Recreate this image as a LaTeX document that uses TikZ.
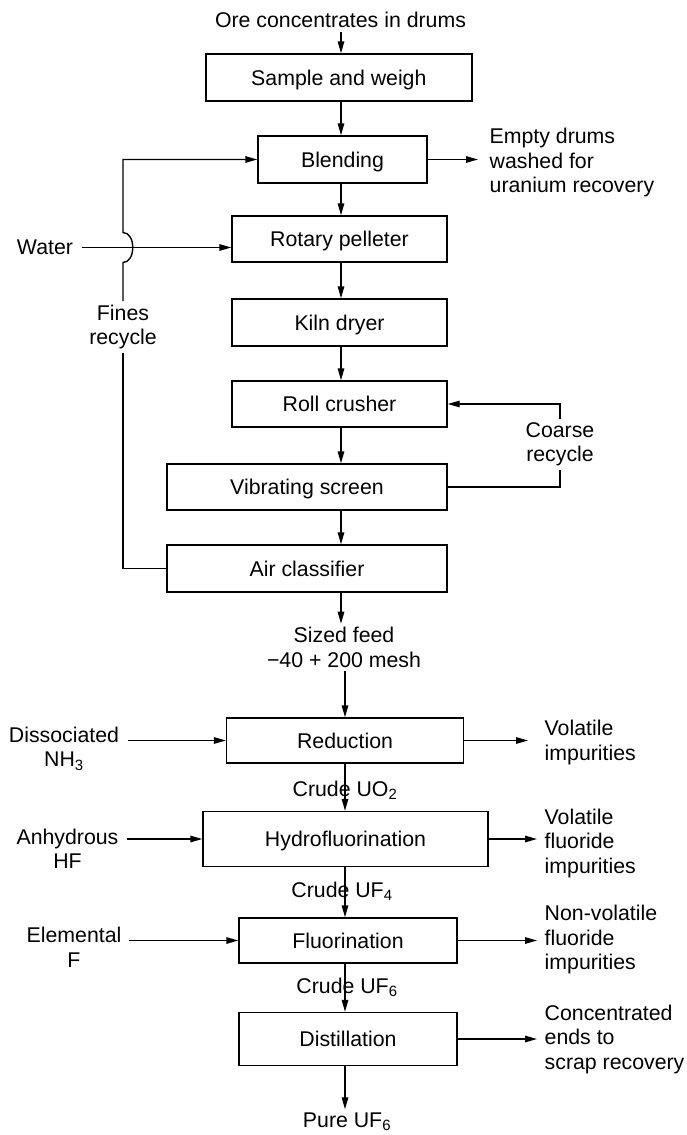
\documentclass[tikz,border=0pt]{standalone}
\usepackage{fontspec}
\setmainfont{Liberation Sans}
\usetikzlibrary{arrows.meta}
\begin{document}
\begin{tikzpicture}[x=1pt,y=-1pt,
  font=\fontsize{21.3}{24.5}\selectfont,
  line width=1.4pt,
  box/.style={draw, rectangle, inner sep=0pt, text height=15.5pt, text depth=0pt},
  lbl/.style={inner sep=3pt, align=center},
  lbll/.style={inner sep=3pt, align=left, anchor=west},
  arr/.style={-{Triangle[length=12pt,width=6.5pt]}}]
\useasboundingbox (0,0) rectangle (686,1135);

% axes
\coordinate (ax1) at (341,0);
\coordinate (ax2) at (345,0);

% process boxes
\node[box, minimum width=266pt, minimum height=47pt] (sample) at (338.85,77.5) {Sample and weigh};
\node[box, minimum width=169pt, minimum height=47pt] (blend) at (342.5,159.5) {Blending};
\node[box, minimum width=215pt, minimum height=46pt] (rotary) at (339.5,239) {Rotary pelleter};
\node[box, minimum width=215pt, minimum height=47pt] (kiln) at (339.5,322.5) {Kiln dryer};
\node[box, minimum width=215pt, minimum height=46pt] (roll) at (339.5,404) {Roll crusher};
\node[box, minimum width=280pt, minimum height=46pt] (vib) at (307,487) {Vibrating screen};
\node[box, minimum width=280pt, minimum height=47pt] (air) at (307,568.5) {Air classifier};
\node[box, minimum width=237pt, minimum height=45pt] (red) at (345,740.5) {Reduction};
\node[box, minimum width=285pt, minimum height=55pt] (hydro) at (345.5,839) {Hydrofluorination};
\node[box, minimum width=218pt, minimum height=45pt] (fluor) at (348,940.5) {Fluorination};
\node[box, minimum width=218pt, minimum height=53pt] (dist) at (348,1039) {Distillation};

% labels
\node[lbl] (ore) at (340.5,20) {Ore concentrates in drums};
\node[lbll] (empty) at (486,162.6) {Empty drums\\washed for\\uranium recovery};
\node[lbl] (water) at (45,247.5) {Water};
\node[lbl] (fines) at (123,327) {Fines\\recycle};
\node[lbl] (coarse) at (560,444.3) {Coarse\\recycle};
\node[lbl] (sized) at (344,647.5) {Sized feed\\−40 + 200 mesh};
\node[lbl] (diss) at (64,748.6) {Dissociated\\NH\textsubscript{3}};
\node[lbll] (volA) at (541,742.3) {Volatile\\impurities};
\node[lbl] (uo2) at (345,790) {Crude UO\textsubscript{2}};
\node[lbl] (anhyd) at (67.5,848.8) {Anhydrous\\HF};
\node[lbll] (volB) at (541,843.3) {Volatile\\fluoride\\impurities};
\node[lbl] (uf4) at (342,891) {Crude UF\textsubscript{4}};
\node[lbl] (elem) at (74,947.1) {Elemental\\F};
\node[lbll] (nonvol) at (541,939.6) {Non-volatile\\fluoride\\impurities};
\node[lbl] (uf6) at (347,987) {Crude UF\textsubscript{6}};
\node[lbll] (conc) at (541,1039.3) {Concentrated\\ends to\\scrap recovery};
\node[lbl] (pure) at (347,1122) {Pure UF\textsubscript{6}};

% bump coordinates for the crossing
\coordinate (bumpt) at (123,232.5);
\coordinate (bumpb) at (123,262.5);

% main flow
\draw[arr] (ore.south -| ax1) -- (sample.north -| ax1);
\draw[arr] (sample.south -| ax1) -- (blend.north -| ax1);
\draw[arr] (blend.south -| ax1) -- (rotary.north -| ax1);
\draw[arr] (rotary.south -| ax1) -- (kiln.north -| ax1);
\draw[arr] (kiln.south -| ax1) -- (roll.north -| ax1);
\draw[arr] (roll.south -| ax1) -- (vib.north -| ax1);
\draw[arr] (vib.south -| ax1) -- (air.north -| ax1);
\draw[arr] (air.south -| ax1) -- (sized.north -| ax1);
\draw[arr] (sized.south -| ax2) -- (red.north -| ax2);
\draw[arr] (red.south -| ax2) -- (hydro.north -| ax2);
\draw[arr] (hydro.south -| ax2) -- (fluor.north -| ax2);
\draw[arr] (fluor.south -| ax2) -- (dist.north -| ax2);
\draw[arr] (dist.south -| ax2) -- (pure.north -| ax2);

% side streams
\draw[arr, shorten >=8pt] (blend.east) -- (blend.east -| empty.west);
\draw[arr] ([xshift=5pt]water.east) -- (water.east -| rotary.west);
\draw (air.west) -| (fines.south);
\draw[arr] (fines.north) -- (bumpb) .. controls +(13,0) and +(13,0) .. (bumpt) |- (blend.west);
\draw (vib.east) -| (coarse.south);
\draw[arr] (coarse.north) |- (roll.east);

\draw[arr] ([xshift=5pt]diss.east |- red.west) -- (red.west);
\draw[arr, shorten >=13pt] (red.east) -- (red.east -| volA.west);
\draw[arr] ([xshift=5pt]anhyd.east |- hydro.west) -- (hydro.west);
\draw[arr, shorten >=4pt] (hydro.east) -- (hydro.east -| volB.west);
\draw[arr] ([xshift=4pt]elem.east |- fluor.west) -- (fluor.west);
\draw[arr, shorten >=4pt] (fluor.east) -- (fluor.east -| nonvol.west);
\draw[arr, shorten >=4pt] (dist.east) -- (dist.east -| conc.west);
\end{tikzpicture}
\end{document}
